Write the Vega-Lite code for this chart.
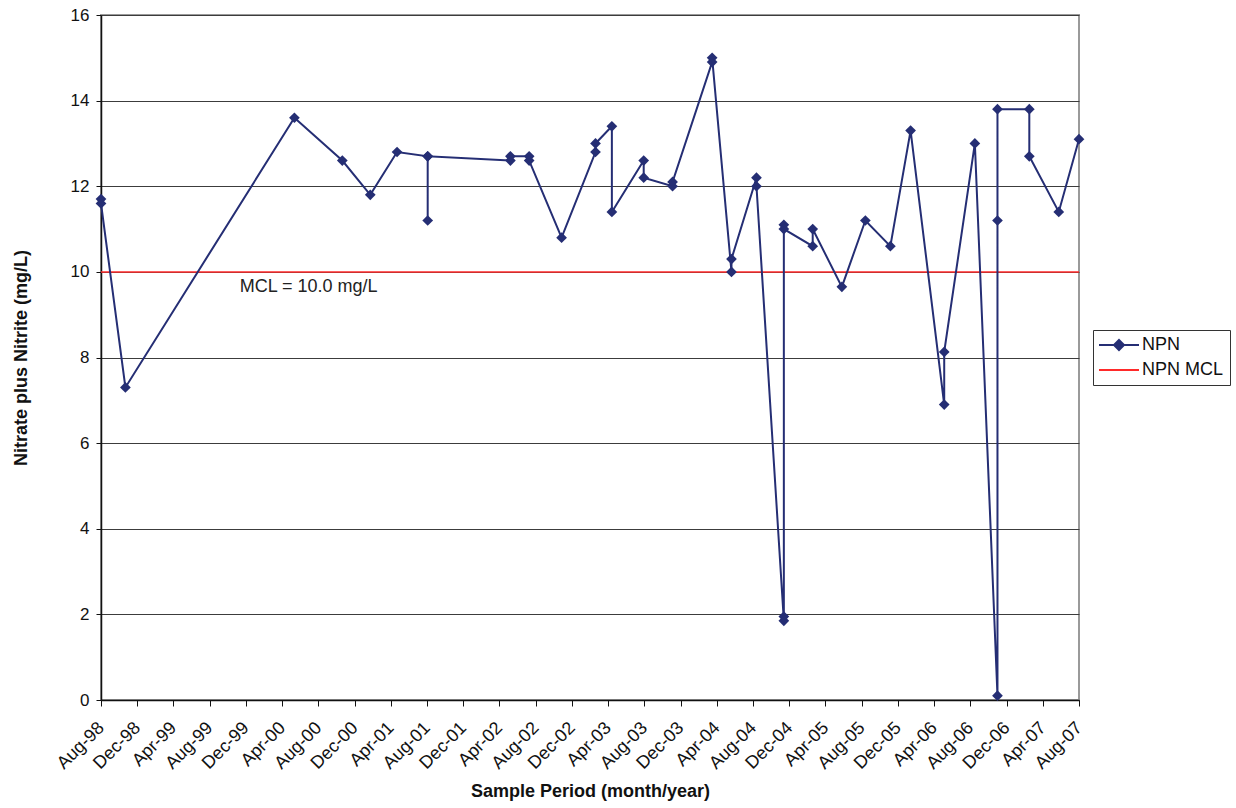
{
  "$schema": "https://vega.github.io/schema/vega-lite/v6.json",
  "width": 978,
  "height": 685,
  "autosize": "none",
  "padding": {"left": 101, "top": 15, "right": 157, "bottom": 108},
  "background": "white",
  "config": {
    "font": "Liberation Sans",
    "view": {"stroke": "#9a9a9a", "strokeWidth": 2},
    "axis": {"labelFont": "Liberation Sans", "titleFont": "Liberation Sans", "labelOverlap": false}
  },
  "layer": [
    {
      "data": {"values": [{"mcl": 10, "series": "NPN MCL"}]},
      "mark": {"type": "rule", "strokeWidth": 1.5},
      "encoding": {
        "y": {"field": "mcl", "type": "quantitative", "scale": {"domain": [0, 16], "nice": false}},
        "color": {"field": "series", "type": "nominal"}
      }
    },
    {
      "data": {"values": [{"mcl": 10, "label": "MCL = 10.0 mg/L"}]},
      "mark": {"type": "text", "align": "left", "baseline": "top", "dy": 6, "fontSize": 18, "font": "Liberation Sans", "color": "#222"},
      "encoding": {
        "x": {
          "datum": {"year": 1999, "month": 11, "date": 10},
          "type": "temporal",
          "scale": {"domain": [{"year": 1998, "month": 8, "date": 1}, {"year": 2007, "month": 8, "date": 1}], "nice": false},
          "axis": {
            "title": "Sample Period (month/year)",
            "titleFontSize": 18,
            "titleFontWeight": "bold",
            "titleColor": "#111",
            "titlePadding": 10,
            "format": "%b-%y",
            "labelAngle": -45,
            "labelAlign": "right",
            "labelBaseline": "middle",
            "labelFontSize": 18,
            "labelColor": "#111",
            "labelPadding": 19,
            "labelOverlap": false,
            "domainColor": "#111",
            "domainWidth": 1.5,
            "tickColor": "#111",
            "tickSize": 6,
            "grid": false,
            "values": [
              {"year": 1998, "month": 8, "date": 1}, {"year": 1998, "month": 12, "date": 1},
              {"year": 1999, "month": 4, "date": 1}, {"year": 1999, "month": 8, "date": 1}, {"year": 1999, "month": 12, "date": 1},
              {"year": 2000, "month": 4, "date": 1}, {"year": 2000, "month": 8, "date": 1}, {"year": 2000, "month": 12, "date": 1},
              {"year": 2001, "month": 4, "date": 1}, {"year": 2001, "month": 8, "date": 1}, {"year": 2001, "month": 12, "date": 1},
              {"year": 2002, "month": 4, "date": 1}, {"year": 2002, "month": 8, "date": 1}, {"year": 2002, "month": 12, "date": 1},
              {"year": 2003, "month": 4, "date": 1}, {"year": 2003, "month": 8, "date": 1}, {"year": 2003, "month": 12, "date": 1},
              {"year": 2004, "month": 4, "date": 1}, {"year": 2004, "month": 8, "date": 1}, {"year": 2004, "month": 12, "date": 1},
              {"year": 2005, "month": 4, "date": 1}, {"year": 2005, "month": 8, "date": 1}, {"year": 2005, "month": 12, "date": 1},
              {"year": 2006, "month": 4, "date": 1}, {"year": 2006, "month": 8, "date": 1}, {"year": 2006, "month": 12, "date": 1},
              {"year": 2007, "month": 4, "date": 1}, {"year": 2007, "month": 8, "date": 1}
            ]
          }
        },
        "y": {"field": "mcl", "type": "quantitative"},
        "text": {"field": "label", "type": "nominal"}
      }
    },
    {
      "data": {
        "values": [
          {"seq": 1, "date": "1998-08-01T00:00:00", "npn": 11.7, "series": "NPN"},
          {"seq": 2, "date": "1998-08-01T00:00:00", "npn": 11.6, "series": "NPN"},
          {"seq": 3, "date": "1998-10-22T00:00:00", "npn": 7.3, "series": "NPN"},
          {"seq": 4, "date": "2000-05-12T00:00:00", "npn": 13.6, "series": "NPN"},
          {"seq": 5, "date": "2000-10-20T00:00:00", "npn": 12.6, "series": "NPN"},
          {"seq": 6, "date": "2001-01-22T00:00:00", "npn": 11.8, "series": "NPN"},
          {"seq": 7, "date": "2001-04-22T00:00:00", "npn": 12.8, "series": "NPN"},
          {"seq": 8, "date": "2001-08-03T00:00:00", "npn": 12.7, "series": "NPN"},
          {"seq": 9, "date": "2001-08-03T00:00:00", "npn": 11.2, "series": "NPN"},
          {"seq": 10, "date": "2001-08-03T00:00:00", "npn": 12.7, "series": "NPN"},
          {"seq": 11, "date": "2002-05-08T00:00:00", "npn": 12.6, "series": "NPN"},
          {"seq": 12, "date": "2002-05-08T00:00:00", "npn": 12.7, "series": "NPN"},
          {"seq": 13, "date": "2002-07-10T00:00:00", "npn": 12.7, "series": "NPN"},
          {"seq": 14, "date": "2002-07-10T00:00:00", "npn": 12.6, "series": "NPN"},
          {"seq": 15, "date": "2002-10-27T00:00:00", "npn": 10.8, "series": "NPN"},
          {"seq": 16, "date": "2003-02-18T00:00:00", "npn": 12.8, "series": "NPN"},
          {"seq": 17, "date": "2003-02-18T00:00:00", "npn": 13.0, "series": "NPN"},
          {"seq": 18, "date": "2003-04-14T00:00:00", "npn": 13.4, "series": "NPN"},
          {"seq": 19, "date": "2003-04-14T00:00:00", "npn": 11.4, "series": "NPN"},
          {"seq": 20, "date": "2003-07-30T00:00:00", "npn": 12.6, "series": "NPN"},
          {"seq": 21, "date": "2003-07-30T00:00:00", "npn": 12.2, "series": "NPN"},
          {"seq": 22, "date": "2003-11-04T00:00:00", "npn": 12.0, "series": "NPN"},
          {"seq": 23, "date": "2003-11-04T00:00:00", "npn": 12.1, "series": "NPN"},
          {"seq": 24, "date": "2004-03-16T00:00:00", "npn": 14.9, "series": "NPN"},
          {"seq": 25, "date": "2004-03-16T00:00:00", "npn": 15.0, "series": "NPN"},
          {"seq": 26, "date": "2004-05-20T00:00:00", "npn": 10.0, "series": "NPN"},
          {"seq": 27, "date": "2004-05-20T00:00:00", "npn": 10.3, "series": "NPN"},
          {"seq": 28, "date": "2004-08-12T00:00:00", "npn": 12.2, "series": "NPN"},
          {"seq": 29, "date": "2004-08-12T00:00:00", "npn": 12.0, "series": "NPN"},
          {"seq": 30, "date": "2004-11-12T00:00:00", "npn": 1.85, "series": "NPN"},
          {"seq": 31, "date": "2004-11-12T00:00:00", "npn": 11.1, "series": "NPN"},
          {"seq": 32, "date": "2004-11-12T00:00:00", "npn": 1.95, "series": "NPN"},
          {"seq": 33, "date": "2004-11-12T00:00:00", "npn": 11.0, "series": "NPN"},
          {"seq": 34, "date": "2005-02-17T00:00:00", "npn": 10.6, "series": "NPN"},
          {"seq": 35, "date": "2005-02-17T00:00:00", "npn": 11.0, "series": "NPN"},
          {"seq": 36, "date": "2005-05-26T00:00:00", "npn": 9.65, "series": "NPN"},
          {"seq": 37, "date": "2005-08-13T00:00:00", "npn": 11.2, "series": "NPN"},
          {"seq": 38, "date": "2005-11-05T00:00:00", "npn": 10.6, "series": "NPN"},
          {"seq": 39, "date": "2006-01-12T00:00:00", "npn": 13.3, "series": "NPN"},
          {"seq": 40, "date": "2006-05-05T00:00:00", "npn": 6.9, "series": "NPN"},
          {"seq": 41, "date": "2006-05-05T00:00:00", "npn": 8.13, "series": "NPN"},
          {"seq": 42, "date": "2006-08-16T00:00:00", "npn": 13.0, "series": "NPN"},
          {"seq": 43, "date": "2006-10-31T00:00:00", "npn": 0.1, "series": "NPN"},
          {"seq": 44, "date": "2006-10-31T00:00:00", "npn": 11.2, "series": "NPN"},
          {"seq": 45, "date": "2006-10-31T00:00:00", "npn": 13.8, "series": "NPN"},
          {"seq": 46, "date": "2007-02-15T00:00:00", "npn": 13.8, "series": "NPN"},
          {"seq": 47, "date": "2007-02-15T00:00:00", "npn": 12.7, "series": "NPN"},
          {"seq": 48, "date": "2007-05-25T00:00:00", "npn": 11.4, "series": "NPN"},
          {"seq": 49, "date": "2007-08-01T00:00:00", "npn": 13.1, "series": "NPN"}
        ]
      },
      "mark": {"type": "line", "strokeWidth": 2, "point": {"filled": true, "shape": "diamond", "size": 115, "opacity": 1}},
      "encoding": {
        "x": {
          "field": "date",
          "type": "temporal",
          "scale": {"domain": [{"year": 1998, "month": 8, "date": 1}, {"year": 2007, "month": 8, "date": 1}], "nice": false},
          "axis": {
            "title": "Sample Period (month/year)",
            "titleFontSize": 18,
            "titleFontWeight": "bold",
            "titleColor": "#111",
            "titlePadding": 10,
            "format": "%b-%y",
            "labelAngle": -45,
            "labelAlign": "right",
            "labelBaseline": "middle",
            "labelFontSize": 18,
            "labelColor": "#111",
            "labelPadding": 19,
            "labelOverlap": false,
            "domainColor": "#111",
            "domainWidth": 1.5,
            "tickColor": "#111",
            "tickSize": 6,
            "grid": false,
            "values": [
              {"year": 1998, "month": 8, "date": 1}, {"year": 1998, "month": 12, "date": 1},
              {"year": 1999, "month": 4, "date": 1}, {"year": 1999, "month": 8, "date": 1}, {"year": 1999, "month": 12, "date": 1},
              {"year": 2000, "month": 4, "date": 1}, {"year": 2000, "month": 8, "date": 1}, {"year": 2000, "month": 12, "date": 1},
              {"year": 2001, "month": 4, "date": 1}, {"year": 2001, "month": 8, "date": 1}, {"year": 2001, "month": 12, "date": 1},
              {"year": 2002, "month": 4, "date": 1}, {"year": 2002, "month": 8, "date": 1}, {"year": 2002, "month": 12, "date": 1},
              {"year": 2003, "month": 4, "date": 1}, {"year": 2003, "month": 8, "date": 1}, {"year": 2003, "month": 12, "date": 1},
              {"year": 2004, "month": 4, "date": 1}, {"year": 2004, "month": 8, "date": 1}, {"year": 2004, "month": 12, "date": 1},
              {"year": 2005, "month": 4, "date": 1}, {"year": 2005, "month": 8, "date": 1}, {"year": 2005, "month": 12, "date": 1},
              {"year": 2006, "month": 4, "date": 1}, {"year": 2006, "month": 8, "date": 1}, {"year": 2006, "month": 12, "date": 1},
              {"year": 2007, "month": 4, "date": 1}, {"year": 2007, "month": 8, "date": 1}
            ]
          }
        },
        "y": {
          "field": "npn",
          "type": "quantitative",
          "scale": {"domain": [0, 16], "nice": false},
          "axis": {
            "title": "Nitrate plus Nitrite (mg/L)",
            "titleFontSize": 18,
            "titleFontWeight": "bold",
            "titleColor": "#111",
            "titlePadding": 40,
            "values": [0, 2, 4, 6, 8, 10, 12, 14, 16],
            "labelFontSize": 17,
            "labelColor": "#111",
            "labelPadding": 7,
            "domainColor": "#111",
            "domainWidth": 1.5,
            "tickColor": "#111",
            "tickSize": 5,
            "grid": true,
            "gridColor": "#3c3c3c",
            "gridWidth": 1
          }
        },
        "order": {"field": "seq", "type": "quantitative"},
        "color": {
          "field": "series",
          "type": "nominal",
          "scale": {"domain": ["NPN", "NPN MCL"], "range": ["#252e74", "#ff2a2a"]},
          "legend": {
            "title": null,
            "orient": "none",
            "legendX": 992,
            "legendY": 315,
            "strokeColor": "#333",
            "padding": 6,
            "symbolSize": 100,
            "symbolStrokeWidth": 2,
            "labelFontSize": 18,
            "labelColor": "#111",
            "labelOffset": 25,
            "rowPadding": 7,
            "encode": {
              "symbols": {
                "update": {
                  "shape": {"signal": "datum.value === 'NPN' ? 'M-1.8,0H6.2M2.2,-1L3.2,0L2.2,1L1.2,0Z' : 'M-1.8,0H6.2'"},
                  "fill": {"signal": "datum.value === 'NPN' ? '#252e74' : 'transparent'"}
                }
              }
            }
          }
        }
      }
    }
  ]
}
